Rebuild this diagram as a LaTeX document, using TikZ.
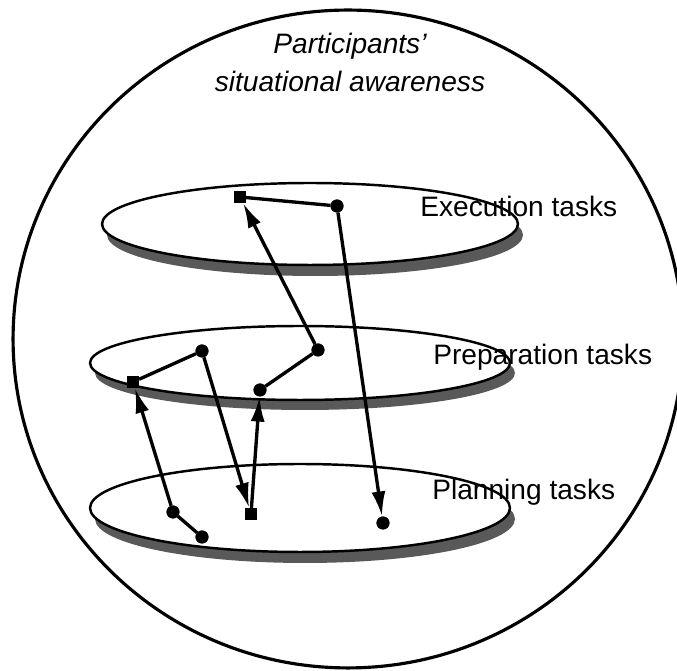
\documentclass[tikz,border=0pt]{standalone}
\usepackage{fontspec}
\setmainfont{Liberation Sans}
\usetikzlibrary{arrows.meta}

\begin{document}
\begin{tikzpicture}[
    x=0.02cm, y=-0.02cm,
    disc/.style={draw, fill=white, line width=1.4pt},
    discshadow/.style={fill=black!65},
    sqdot/.style={draw, fill=black, rectangle, minimum size=0.23cm, inner sep=0pt},
    rddot/.style={draw, fill=black, circle, minimum size=0.25cm, inner sep=0pt},
    level/.style={anchor=base west, inner sep=0pt, font=\fontsize{16}{19}\selectfont},
    arrow/.style={-{Latex[length=0.5cm, width=0.28cm]}, line width=1.9pt},
    link/.style={line width=1.9pt}
]
\useasboundingbox (0,0) rectangle (677,671);

% Bubble
\draw[line width=1.8pt] (348,339) ellipse [x radius=6.7cm, y radius=6.58cm];
\node (title) [align=center, anchor=north, inner sep=0pt, font=\itshape\fontsize{16}{21.5}\selectfont] at (350,33) {Participants'\\situational awareness};

% Discs
\fill[discshadow] (315,235) ellipse [x radius=4.16cm, y radius=0.82cm];
\draw[disc] (310,224) ellipse [x radius=4.16cm, y radius=0.82cm];
\fill[discshadow] (305,373) ellipse [x radius=4.2cm, y radius=0.74cm];
\draw[disc] (300,363) ellipse [x radius=4.2cm, y radius=0.74cm];
\fill[discshadow] (305,519) ellipse [x radius=4.2cm, y radius=0.88cm];
\draw[disc] (300,508) ellipse [x radius=4.2cm, y radius=0.88cm];

% Points
\node (e1) [sqdot] at (240,197) {};
\node (e2) [rddot] at (337,206) {};
\node (p1) [sqdot] at (133,382) {};
\node (p2) [rddot] at (202,351) {};
\node (p3) [rddot] at (318,350) {};
\node (p4) [rddot] at (260,390) {};
\node (l1) [rddot] at (173,512) {};
\node (l2) [rddot] at (202,537) {};
\node (l3) [sqdot] at (251,514) {};
\node (l4) [rddot] at (383,523) {};

% Arrows
\draw[link] (l2) -- (l1);
\draw[arrow] (l1) -- (p1);
\draw[link] (p1) -- (p2);
\draw[arrow] (p2) -- (l3);
\draw[arrow] (l3) -- (p4);
\draw[link] (p4) -- (p3);
\draw[arrow] (p3) -- (e1);
\draw[link] (e1) -- (e2);
\draw[arrow] (e2) -- (l4);

% Labels
\node (exec) [level] at (420,217) {Execution tasks};
\node (prep) [level] at (433,365) {Preparation tasks};
\node (plan) [level] at (432,500) {Planning tasks};

\end{tikzpicture}
\end{document}
